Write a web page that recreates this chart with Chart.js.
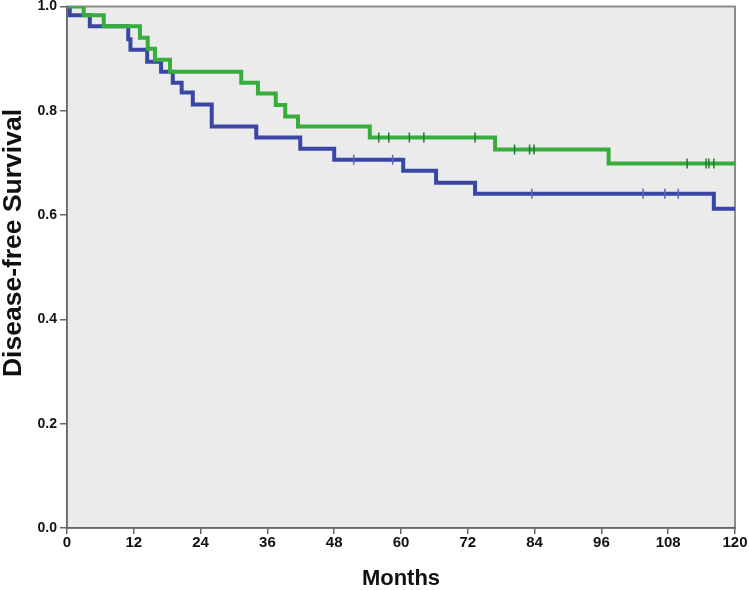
<!DOCTYPE html>
<html>
<head>
<meta charset="utf-8">
<script src="https://cdn.jsdelivr.net/npm/chart.js@4"></script>
<style>
  body { margin: 0; background: #fff; }
  #chart { display: block; }
</style>
</head>
<body>
<canvas id="chart" width="749" height="590"></canvas>
<script>
// step points: time (months) and survival after the drop
const blueTimes = [0, 0.5, 4.1, 11.0, 11.4, 14.4, 16.9, 19.0, 20.6, 22.6, 26.0, 34.0, 41.9, 48.0, 60.4, 66.3, 73.3, 116.2, 120];
const blueSurv = [1.0, 0.983, 0.962, 0.937, 0.917, 0.894, 0.875, 0.854, 0.835, 0.812, 0.770, 0.749, 0.727, 0.706, 0.685, 0.662, 0.641, 0.612, 0.612];
const blueCensored = [51.5, 58.5, 83.5, 103.5, 107.4, 109.8];

const greenTimes = [0, 3.0, 6.6, 13.1, 14.5, 15.8, 18.5, 31.3, 34.3, 37.5, 39.2, 41.5, 54.4, 76.9, 97.3, 120];
const greenSurv = [1.0, 0.983, 0.962, 0.940, 0.919, 0.898, 0.875, 0.854, 0.833, 0.811, 0.789, 0.770, 0.749, 0.726, 0.699, 0.699];
const greenCensored = [56.0, 57.8, 61.5, 64.1, 73.3, 80.4, 83.1, 83.9, 111.4, 114.8, 115.3, 116.2];

const xTicks = [0, 12, 24, 36, 48, 60, 72, 84, 96, 108, 120];
const yTicks = [0, 0.2, 0.4, 0.6, 0.8, 1.0];

function toPoints(times, surv) {
  return times.map((t, i) => ({ x: t, y: surv[i] }));
}

// censor marks sit on the curve at that time
function censorPoints(censored, times, surv) {
  return censored.map(t => {
    let v = surv[0];
    times.forEach((tt, i) => { if (tt <= t) v = surv[i]; });
    return { x: t, y: v };
  });
}

const sans = "'Liberation Sans', Arial, sans-serif";

const plotBox = {
  id: 'plotBox',
  beforeDraw(chart) {
    const { ctx, chartArea: a } = chart;
    ctx.save();
    ctx.fillStyle = '#ebebeb';
    ctx.fillRect(a.left, a.top, a.right - a.left, a.bottom - a.top);
    ctx.strokeStyle = '#8c8c8c';
    ctx.lineWidth = 2;
    ctx.strokeRect(a.left, a.top, a.right - a.left, a.bottom - a.top);
    ctx.restore();
  },
  // y title sits a bit above the middle of the axis
  afterDraw(chart) {
    const ctx = chart.ctx;
    ctx.save();
    ctx.translate(14, 243);
    ctx.rotate(-Math.PI / 2);
    ctx.fillStyle = '#111';
    ctx.font = "bold 26.5px " + sans;
    ctx.textAlign = 'center';
    ctx.textBaseline = 'middle';
    ctx.fillText('Disease-free Survival', 0, 0);
    ctx.restore();
  }
};

new Chart(document.getElementById('chart'), {
  type: 'line',
  data: {
    datasets: [
      {
        type: 'scatter',
        data: censorPoints(greenCensored, greenTimes, greenSurv),
        pointStyle: 'line', rotation: 90, pointRadius: 5,
        borderColor: '#1d7a2c', borderWidth: 1.5
      },
      {
        type: 'scatter',
        data: censorPoints(blueCensored, blueTimes, blueSurv),
        pointStyle: 'line', rotation: 90, pointRadius: 5,
        borderColor: '#5a68b8', borderWidth: 1.5
      },
      {
        data: toPoints(greenTimes, greenSurv),
        stepped: true,
        borderColor: '#36ad3d', borderWidth: 4,
        pointRadius: 0, fill: false
      },
      {
        data: toPoints(blueTimes, blueSurv),
        stepped: true,
        borderColor: '#3a46a6', borderWidth: 4,
        pointRadius: 0, fill: false
      }
    ]
  },
  options: {
    responsive: false,
    animation: false,
    devicePixelRatio: 1,
    layout: { padding: { top: 6, right: 14, left: 0, bottom: 0 } },
    plugins: { legend: { display: false }, tooltip: { enabled: false } },
    scales: {
      x: {
        type: 'linear', min: 0, max: 120,
        afterBuildTicks: s => { s.ticks = xTicks.map(v => ({ value: v })); },
        afterFit: s => { s.height = 62; s.paddingLeft = 0; s.paddingRight = 0; },
        grid: { drawOnChartArea: false, tickLength: 6, color: '#666', lineWidth: 1.5 },
        border: { color: '#666', width: 1.5 },
        ticks: {
          padding: 1, color: '#111', maxRotation: 0,
          font: { family: sans, size: 15, weight: 'bold', lineHeight: 1 }
        },
        title: {
          display: true, text: 'Months', color: '#111',
          padding: { top: 0, bottom: 0 },
          font: { family: sans, size: 22, weight: 'bold', lineHeight: 1 }
        }
      },
      y: {
        min: 0, max: 1,
        afterBuildTicks: s => { s.ticks = yTicks.map(v => ({ value: v })); },
        afterFit: s => { s.width = 67; s.paddingTop = 0; s.paddingBottom = 0; },
        grid: { drawOnChartArea: false, tickLength: 7, color: '#666', lineWidth: 1.5 },
        border: { color: '#666', width: 1.5 },
        ticks: {
          padding: 3, color: '#111',
          callback: v => v.toFixed(1),
          font: { family: sans, size: 14, weight: 'bold', lineHeight: 1 }
        }
      }
    }
  },
  plugins: [plotBox]
});
</script>
</body>
</html>
